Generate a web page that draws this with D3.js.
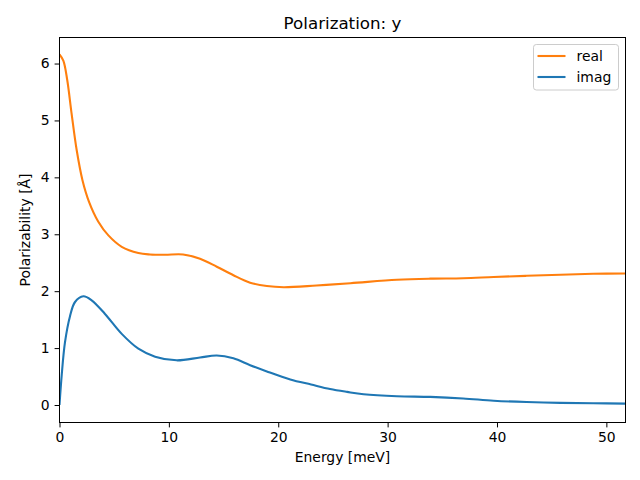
<!DOCTYPE html>
<html><head><meta charset="utf-8">
<script src="https://cdn.jsdelivr.net/npm/d3@7"></script>
<style>body{margin:0;background:#fff}svg{display:block;font-family:"DejaVu Sans",sans-serif}</style>
</head><body><svg id="c" width="640" height="480"></svg>
<script>
const realX = [0, 0.35, 0.7, 1.1, 1.57, 2.1, 2.7, 3.55, 4.47, 5.69, 7.21, 8.28, 9.65, 11.3, 12.85, 14.38, 15.9, 17.43, 18.96, 20.5, 23.5, 26.6, 30.85, 33.9, 36.9, 39.7, 42.7, 45.8, 48.8, 51.75];
const realY = [6.16, 6.05, 5.72, 5.13, 4.48, 3.95, 3.57, 3.22, 2.98, 2.78, 2.67, 2.645, 2.64, 2.645, 2.57, 2.43, 2.28, 2.15, 2.09, 2.07, 2.1, 2.14, 2.2, 2.22, 2.228, 2.25, 2.27, 2.29, 2.305, 2.31];
const imagX = [0, 0.2, 0.5, 0.96, 1.42, 2.18, 2.94, 4.16, 5.69, 7.21, 8.74, 10.7, 12.85, 14.38, 15.9, 17.43, 18.96, 21.1, 23.0, 24.74, 26.3, 27.8, 30.85, 33.9, 36.9, 39.7, 42.7, 45.8, 48.8, 51.75];
const imagY = [0, 0.52, 1.1, 1.56, 1.81, 1.91, 1.84, 1.6, 1.25, 0.99, 0.85, 0.785, 0.835, 0.87, 0.82, 0.7, 0.59, 0.45, 0.36, 0.28, 0.23, 0.19, 0.155, 0.142, 0.115, 0.076, 0.052, 0.038, 0.03, 0.025];
const xTicks = [0, 10, 20, 30, 40, 50];
const yTicks = [0, 1, 2, 3, 4, 5, 6];
const seriesNames = ["real", "imag"];
const colors = ["#ff7f0e", "#1f77b4"];

const svg = d3.select("#c");
const L = 59.5, R = 625.5, T = 37.5, B = 422.5;
const x = d3.scaleLinear().domain([0, 51.75]).range([L, R]);
const y = d3.scaleLinear().domain([-0.3075, 6.4575]).range([B, T]);

const series = [realX.map((v,i)=>[v, realY[i]]), imagX.map((v,i)=>[v, imagY[i]])];
const line = d3.line().x(d=>x(d[0])).y(d=>y(d[1])).curve(d3.curveCatmullRom.alpha(0.5));

svg.append("defs").append("clipPath").attr("id","clip").append("rect")
  .attr("x",L).attr("y",T).attr("width",R-L).attr("height",B-T);

series.forEach((s,i)=>{
  svg.append("path").datum(s).attr("d",line).attr("fill","none")
    .attr("stroke",colors[i]).attr("stroke-width",2.1).attr("stroke-linejoin","round").attr("clip-path","url(#clip)");
});

const xa = svg.append("g").attr("transform",`translate(0,${B})`)
  .call(d3.axisBottom(x).tickValues(xTicks).tickSize(4.9).tickPadding(4.9).tickFormat(d3.format("d")));
const ya = svg.append("g").attr("transform",`translate(${L},0)`)
  .call(d3.axisLeft(y).tickValues(yTicks).tickSize(4.9).tickPadding(4.9).tickFormat(d3.format("d")));
[xa,ya].forEach(a=>{
  a.select(".domain").remove();
  a.selectAll("text").attr("font-size","13.9px").attr("fill","#000").attr("font-family","DejaVu Sans");
  a.selectAll("line").attr("stroke","#000").attr("stroke-width",1);
});

svg.append("rect").attr("x",L).attr("y",T).attr("width",R-L).attr("height",B-T)
  .attr("fill","none").attr("stroke","#000").attr("stroke-width",1);

svg.append("text").attr("x",(L+R)/2).attr("y",29).attr("text-anchor","middle")
  .attr("font-size","16.7px").text("Polarization: y");
svg.append("text").attr("x",(L+R)/2).attr("y",462).attr("text-anchor","middle")
  .attr("font-size","13.9px").text("Energy [meV]");
svg.append("text").attr("transform",`translate(30,${(T+B)/2}) rotate(-90)`).attr("text-anchor","middle")
  .attr("font-size","13.9px").text("Polarizability [Å]");

const lg = svg.append("g");
lg.append("rect").attr("x",533.5).attr("y",44.5).attr("width",85).attr("height",45.5).attr("rx",2.8)
  .attr("fill","#fff").attr("fill-opacity",0.8).attr("stroke","#ccc").attr("stroke-width",1);
seriesNames.forEach((n,i)=>{
  const yy = 56 + i*21;
  lg.append("line").attr("x1",537.5).attr("x2",565.5).attr("y1",yy).attr("y2",yy)
    .attr("stroke",colors[i]).attr("stroke-width",2.1);
  lg.append("text").attr("x",576.5).attr("y",yy+5).attr("font-size","13.9px").text(n);
});
</script></body></html>
